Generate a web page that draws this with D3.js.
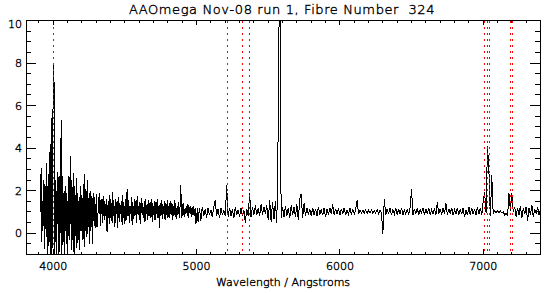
<!DOCTYPE html>
<html>
<head>
<meta charset="utf-8">
<script src="https://cdnjs.cloudflare.com/ajax/libs/d3/7.8.5/d3.min.js"></script>
<style>
body { margin: 0; background: #fff; }
svg { display: block; font-family: "DejaVu Sans", sans-serif; font-weight: 200; }
svg text { stroke: #000; stroke-width: 0.4px; }
</style>
</head>
<body>
<svg id="chart" width="553" height="293"></svg>
<script>
// spectrum and plot labels
var titleText = 'AAOmega Nov-08 run 1, Fibre Number  324';
var xLabel = 'Wavelength / Angstroms';
var xTicks = [4000, 5000, 6000, 7000];
var yTicks = [0, 2, 4, 6, 8, 10];
var lineMarks = [3999, 5213, 5317, 5366, 7010, 7027, 7045, 7192, 7208];

var blueStart = 3910, blueStep = 5;
var fluxBlue = [
    1.0, 3.05, -0.4, 1.5, 0.35, 2.5, -0.75, 2.2, -0.2, 3.3,
    -1.5, 2.8, -0.6, 3.8, -1.4, 5.4, -1.6, 2.4, 8.0, 7.1,
    -1.5, 2.5, -1.2, 1.8, 2.9, -1.3, 2.7, -0.9, 1.5, 5.3,
    -1.2, 2.7, -0.4, 2.0, -1.1, 2.2, -0.5, 1.9, -0.9, 2.7,
    -0.3, 2.1, 3.65, -0.8, 2.5, -0.3, 2.85, -1.2, 2.2, -0.15,
    2.6, -0.7, 1.9, -0.3, 1.7, -0.8, 2.2, 0.1, 1.8, -0.3,
    2.3, -0.65, 2.8, 0.1, 2.0, -0.2, 2.5, 0.3, 1.9, -0.5,
    2.0, 0.3, 1.75, -0.5, 1.9, 0.35, 1.7, 0.25, 1.85, 0.3,
    0.4, 1.7, 0.9, 1.9, 0.35, 1.3, 1.6, 0.5, 1.75, 0.6,
    1.5, 0.8, 1.6, 0.05, 1.2, 1.5, 0.45, 1.8, 0.7, 1.4,
    0.5, 1.95, 0.8, 1.3, 0.3, 1.6, 0.9, 1.5, 0.25, 1.7,
    0.55, 1.4, 0.9, 1.5, 0.4, 1.8, 0.7, 1.3, 0.45, 1.6,
    0.6, 2.1, 0.8, 1.55, 0.5, 1.3, 0.9, 1.7, 0.4, 1.45,
    0.65, 1.6, 0.8, 1.5, 0.5, 1.75, 0.9, 1.3, 0.6, 1.45,
    0.45, 1.65, 0.85, 1.4, 0.7, 1.5, 0.55, 1.6, 0.9, 1.35,
    0.6, 1.55, 0.8, 1.45, 0.7, 1.6, 0.55, 1.4, 0.85, 1.5,
    0.6, 1.45, 0.9, 1.6, 0.7, 1.3, 0.25, 1.4, 0.8, 1.55,
    0.65, 1.35, 0.9, 1.5, 0.6, 1.4, 0.85, 1.55, 0.7, 1.3,
    0.7, 1.5, 0.9, 1.4, 0.6, 1.35, 0.8, 1.55, 0.75, 1.4,
    0.65, 1.3, 0.85, 1.45, 0.7, 1.3, 2.25, 0.7, 1.35, 0.8,
    1.4, 0.75, 1.2, 0.9, 1.3, 0.8, 1.35, 0.7, 1.25, 0.9,
    1.3, 0.75, 1.25, 0.85, 1.3, 0.8, 1.2, 0.5, 0.55, 1.2
];

// rest of the spectrum (5010-7400 A, 10 A)
var redStart = 5010, redStep = 10;
var fluxRed = [
    0.55, 1.2, 0.6, 1.25, 0.8, 1.15, 0.7, 1.2, 0.85, 1.1,
    0.75, 1.25, 1.55, 0.8, 1.15, 0.7, 1.2, 0.85, 1.1, 0.8,
    2.25, 0.75, 1.2, 0.8, 1.15, 0.7, 1.25, 0.85, 1.1, 0.75,
    1.2, 0.8, 1.1, 0.5, 1.15, 0.8, 1.9, 0.75, 1.25, 0.85,
    1.3, 0.85, 1.2, 0.8, 1.35, 0.85, 1.25, 0.9, 1.3, 0.6,
    1.55, 0.55, 1.45, 0.65, 1.5, 0.5, 5.07, 14, 0.7, 1.25,
    0.75, 1.3, 0.8, 1.2, 0.7, 1.3, 0.85, 1.25, 0.75, 1.35,
    0.6, 1.6, 1.85, 0.7, 1.4, 0.8, 1.2, 0.85, 1.15, 0.8,
    1.2, 0.85, 1.15, 0.8, 1.25, 0.9, 1.1, 0.85, 1.2, 0.75,
    1.15, 0.85, 1.2, 0.9, 1.35, 0.85, 1.15, 0.9, 1.2, 0.85,
    1.15, 0.9, 1.2, 0.85, 1.1, 0.9, 1.2, 0.85, 1.15, 0.9,
    1.1, 1.55, 0.9, 1.1, 0.95, 1.08, 0.95, 1.1, 0.93, 1.08,
    0.95, 1.1, 0.94, 1.07, 0.95, 1.1, 0.93, 1.08, 0.95, -0.02,
    1.6, 0.85, 1.15, 0.9, 1.2, 0.85, 1.1, 0.9, 1.2, 0.85,
    1.15, 0.9, 1.2, 0.85, 1.1, 0.9, 1.15, 0.85, 1.2, 2.06,
    0.85, 1.15, 0.9, 1.2, 0.85, 1.1, 0.95, 1.2, 0.85, 1.15,
    0.9, 1.2, 0.85, 1.1, 0.9, 1.2, 0.85, 1.47, 0.9, 1.15,
    0.85, 1.2, 0.9, 1.4, 0.85, 1.15, 0.9, 1.2, 0.85, 1.1,
    0.9, 1.2, 0.85, 1.15, 0.9, 1.2, 0.75, 1.1, 0.85, 1.25,
    0.85, 1.2, 0.9, 1.15, 0.85, 1.25, 0.9, 1.2, 0.85, 1.5,
    1.92, 0.95, 4.12, 2.97, 0.8, 2.72, 0.9, 1.05, 0.95, 1.05,
    0.97, 1.05, 0.95, 1.02, 0.85, 0.95, 0.8, 1.87, 1.05, 1.87,
    1.0, 1.25, 0.75, 1.2, 0.85, 1.3, 0.7, 1.2, 0.9, 1.25,
    0.58, 1.2, 0.85, 1.3, 0.75, 1.15, 0.9, 1.25, 0.85, 1.1
];

var svg = d3.select('#chart');
var plotL = 26, plotR = 540, plotT = 20, plotB = 254;

var x = d3.scaleLinear().domain([3813, 7400]).range([plotL, plotR]);
var y = d3.scaleLinear().domain([-1, 10]).range([plotB, plotT]);

var xMinor = d3.range(3900, 7401, 100).filter(function (v) { return xTicks.indexOf(v) < 0; });
var yMinor = d3.range(-1, 10.01, 0.5).filter(function (v) { return yTicks.indexOf(v) < 0; });

svg.append('defs').append('clipPath').attr('id', 'plotclip')
    .append('rect')
    .attr('x', plotL + 0.5).attr('y', plotT + 0.5)
    .attr('width', plotR - plotL).attr('height', plotB - plotT);

// spectrum
var points = fluxBlue.map(function (f, i) { return [blueStart + i * blueStep, f]; })
    .concat(fluxRed.map(function (f, i) { return [redStart + i * redStep, f]; }));

svg.append('path')
    .datum(points)
    .attr('clip-path', 'url(#plotclip)')
    .attr('fill', 'none')
    .attr('stroke', '#000')
    .attr('stroke-width', 1)
    .attr('shape-rendering', 'crispEdges')
    .attr('d', d3.line().x(function (d) { return x(d[0]) + 0.5; }).y(function (d) { return y(d[1]) + 0.5; }));

// red dotted marker lines
svg.selectAll('.mark').data(lineMarks).enter().append('line')
    .attr('class', 'mark')
    .attr('x1', function (d) { return Math.round(x(d)) + 0.5; })
    .attr('x2', function (d) { return Math.round(x(d)) + 0.5; })
    .attr('y1', plotT + 1)
    .attr('y2', plotB)
    .attr('stroke', '#ff0000')
    .attr('stroke-width', 1)
    .attr('stroke-dasharray', '2,4');

// axes, IDL style: ticks inward on all four sides
function drawAxis(axis, tx, ty, labels) {
    var g = svg.append('g').attr('transform', 'translate(' + tx + ',' + ty + ')').call(axis);
    g.selectAll('path, line').attr('stroke', '#000').attr('shape-rendering', 'crispEdges');
    if (!labels) g.selectAll('text').remove();
    return g;
}

drawAxis(d3.axisBottom(x).tickValues(xMinor).tickSize(-2.5).tickSizeOuter(0).tickFormat(''), 0, plotB, false);
drawAxis(d3.axisTop(x).tickValues(xMinor).tickSize(-2.5).tickSizeOuter(0).tickFormat(''), 0, plotT, false);
drawAxis(d3.axisLeft(y).tickValues(yMinor).tickSize(-5).tickSizeOuter(0).tickFormat(''), plotL, 0, false);
drawAxis(d3.axisRight(y).tickValues(yMinor).tickSize(-5).tickSizeOuter(0).tickFormat(''), plotR, 0, false);

var gx = drawAxis(d3.axisBottom(x).tickValues(xTicks).tickSize(-5).tickSizeOuter(0)
    .tickFormat(d3.format('d')), 0, plotB, true);
gx.selectAll('text').attr('y', 16).attr('dy', null)
    .style('font-size', '11px').style('font-family', '"DejaVu Sans", sans-serif').attr('fill', '#000');
drawAxis(d3.axisTop(x).tickValues(xTicks).tickSize(-5).tickSizeOuter(0), 0, plotT, false);

var gy = drawAxis(d3.axisLeft(y).tickValues(yTicks).tickSize(-10).tickSizeOuter(0).tickPadding(4)
    .tickFormat(d3.format('d')), plotL, 0, true);
gy.selectAll('text')
    .attr('dy', function (d) { return (y(d) < plotT + 4 ? 7.5 : 4) + 'px'; })
    .style('font-size', '11px').style('font-family', '"DejaVu Sans", sans-serif').attr('fill', '#000');
drawAxis(d3.axisRight(y).tickValues(yTicks).tickSize(-10).tickSizeOuter(0), plotR, 0, false);

svg.append('text')
    .attr('x', 282)
    .attr('y', 13.5)
    .attr('text-anchor', 'middle')
    .style('font-size', '13px')
    .style('letter-spacing', '0.6px')
    .style('white-space', 'pre')
    .text(titleText);

svg.append('text')
    .attr('x', 283)
    .attr('y', 286)
    .attr('text-anchor', 'middle')
    .style('font-size', '11px')
    .text(xLabel);
</script>
</body>
</html>
